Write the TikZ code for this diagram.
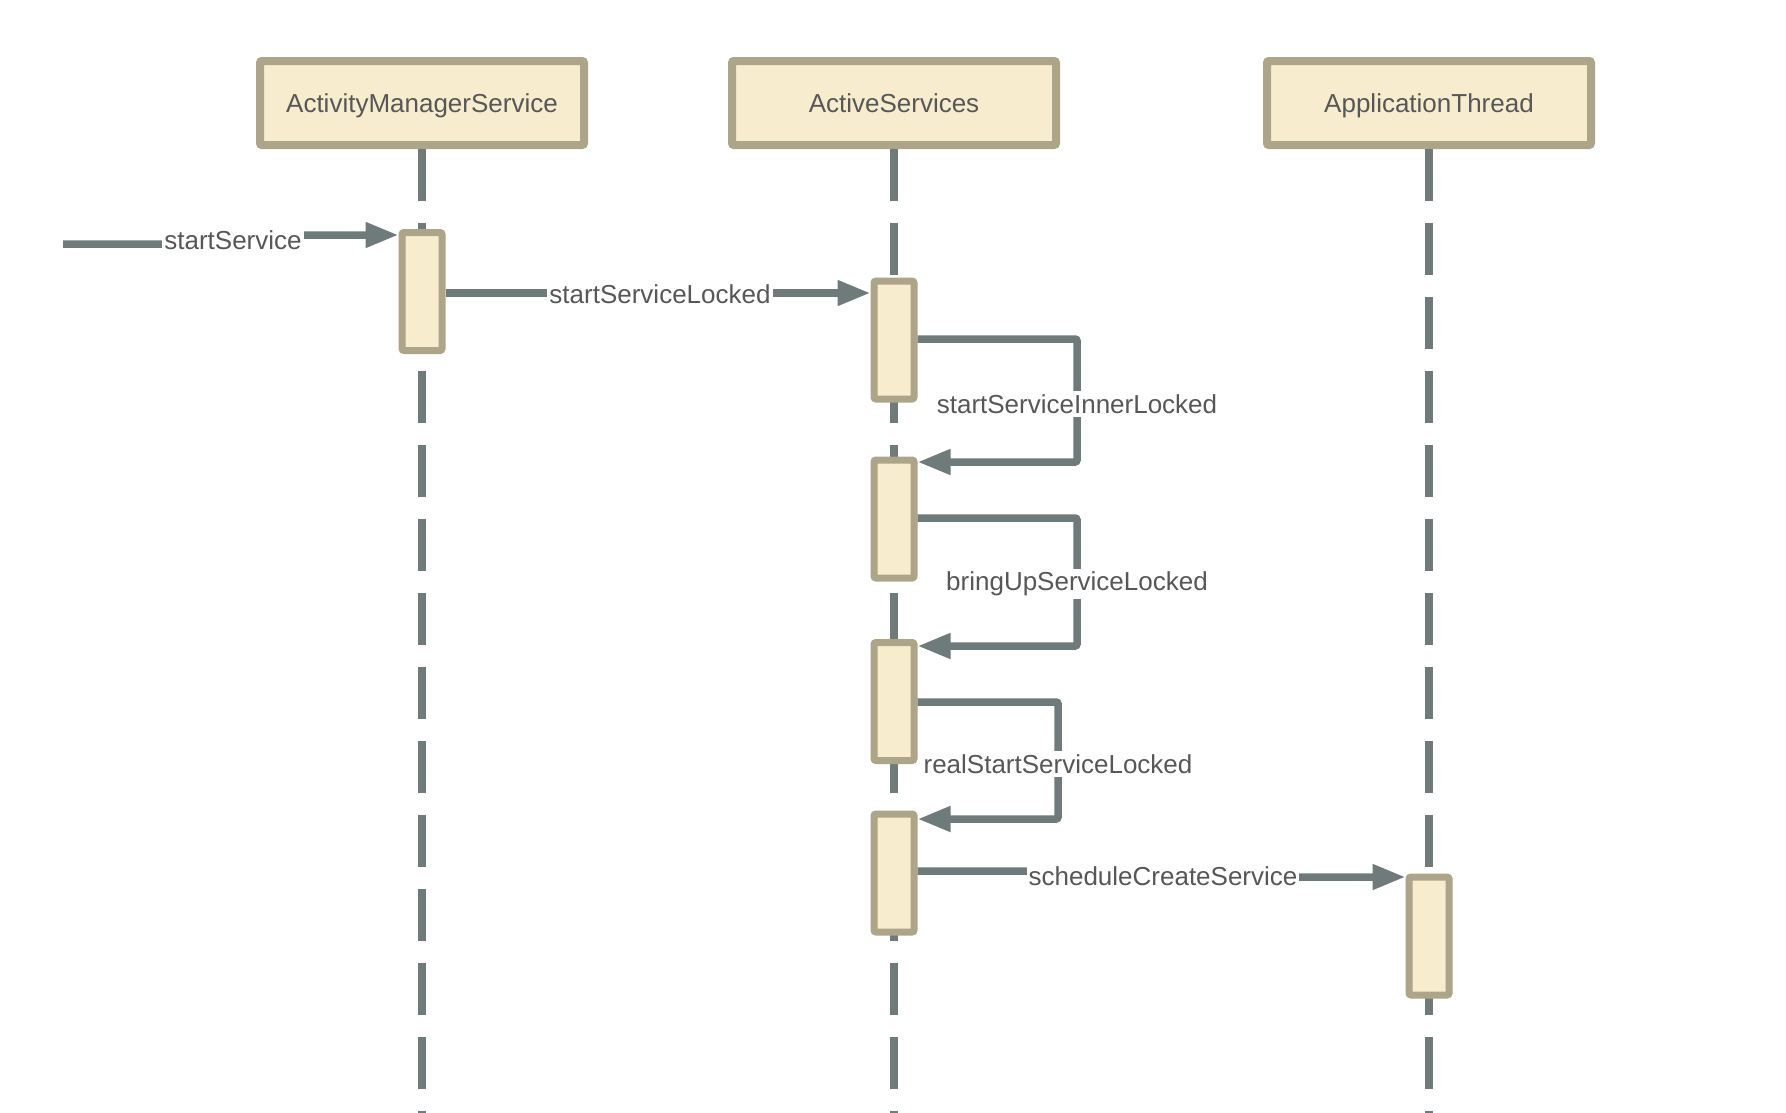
\documentclass[tikz,border=0pt]{standalone}
\usepackage{fontspec}
\setmainfont{Liberation Sans}
\usetikzlibrary{arrows.meta,calc}
\definecolor{boxfill}{HTML}{F8ECCE}
\definecolor{boxline}{HTML}{ACA58A}
\definecolor{wire}{HTML}{6F7B7B}
\definecolor{txt}{HTML}{575757}
\begin{document}
\begin{tikzpicture}[x=1pt,y=-1pt,
  actor/.style={draw=boxline, fill=boxfill, line width=8pt, rounded corners=2pt,
    minimum width=324pt, minimum height=84pt, inner sep=0pt,
    text height=21pt, text depth=2pt,
    font=\fontsize{26}{30}\selectfont, text=txt},
  act/.style={draw=boxline, fill=boxfill, line width=7pt, rounded corners=2pt,
    minimum width=40pt, minimum height=118pt, inner sep=0pt},
  life/.style={draw=wire, line width=8pt, dash pattern=on 52pt off 22pt},
  msg/.style={draw=wire, line width=7.5pt, rounded corners=2pt,
    -{Triangle[length=33pt,width=24pt]}},
  lbl/.style={fill=white, text=txt, font=\fontsize{26}{30}\selectfont,
    inner xsep=2pt, inner ysep=3pt}]
\useasboundingbox[fill=white] (0,0) rectangle (1786,1112);

% actors
\node[actor] (ams) at (422,103) {ActivityManagerService};
\node[actor] (as)  at (894,103) {ActiveServices};
\node[actor] (at)  at (1429,103) {ApplicationThread};

% lifeline ends
\coordinate (amsend) at (422,1116);
\coordinate (asend)  at (894,1116);
\coordinate (atend)  at (1429,1116);
\draw[life] (ams.south) -- (amsend);
\draw[life] (as.south) -- (asend);
\draw[life] (at.south) -- (atend);

% activations
\node[act] (a0) at (422,291.5) {};
\node[act] (a1) at (894,340) {};
\node[act] (a2) at (894,519) {};
\node[act] (a3) at (894,701.5) {};
\node[act] (a4) at (894,873) {};
\node[act] (a5) at (1429,936) {};

\coordinate (start) at (63,244);

% messages
\draw[msg] (start) -- (233,244) -- (233,235) -- ($(a0.north west)+(0,6)$);
\draw[msg] (a0.east |- 0,293) -- (a1.west |- 0,293);
\draw[msg] (a1.east |- 0,339) -- (1077,339) -- (1077,462) -- (a2.east |- 0,462);
\draw[msg] (a2.east |- 0,518) -- (1077,518) -- (1077,646) -- (a3.east |- 0,646);
\draw[msg] (a3.east |- 0,702) -- (1058,702) -- (1058,819) -- (a4.east |- 0,819);
\draw[msg] (a4.east |- 0,871) -- (1163,871) -- (1163,877) -- (a5.west |- 0,877);

% labels
\node[lbl] (l0) at (233,240) {startService};
\node[lbl] (l1) at (660,294) {startServiceLocked};
\node[lbl] (l2) at (1077,404) {startServiceInnerLocked};
\node[lbl] (l3) at (1077,584) {bringUpServiceLocked};
\node[lbl] (l4) at (1058,764) {realStartServiceLocked};
\node[lbl] (l5) at (1163,876) {scheduleCreateService};
\end{tikzpicture}
\end{document}
